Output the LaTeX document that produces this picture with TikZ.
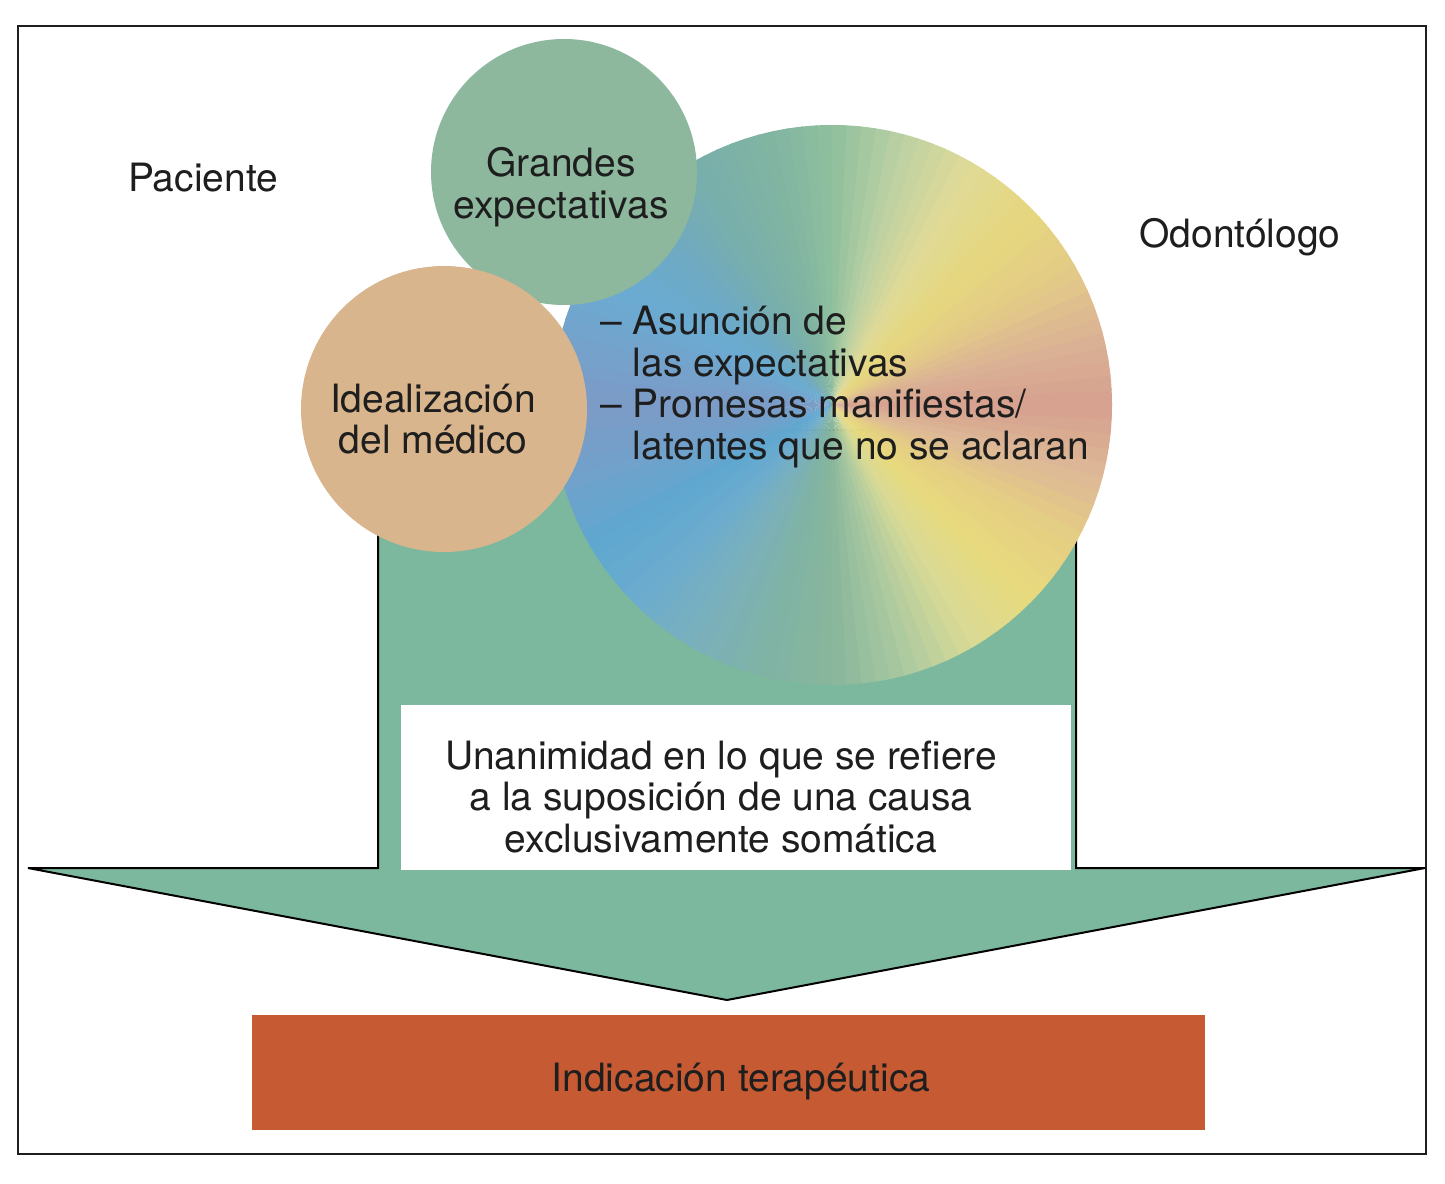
\documentclass[tikz,border=0pt]{standalone}
\usepackage{fontspec}
\setmainfont{TeX Gyre Heros}
\definecolor{arrowgreen}{HTML}{7CB89E}
\definecolor{circgreen}{HTML}{8DB89E}
\definecolor{circtan}{HTML}{D8B58C}
\definecolor{boxred}{HTML}{C65A33}
\definecolor{txt}{HTML}{1E1E1E}
% conic stops every 15 degrees (visual angle, counterclockwise from right)
\definecolor{k0}{HTML}{D6A08E}
\definecolor{k1}{HTML}{DBB395}
\definecolor{k2}{HTML}{E3CC86}
\definecolor{k3}{HTML}{E6D77E}
\definecolor{k4}{HTML}{E0DA98}
\definecolor{k5}{HTML}{BCD1A2}
\definecolor{k6}{HTML}{8FBF9E}
\definecolor{k7}{HTML}{80B4A2}
\definecolor{k8}{HTML}{78AEAC}
\definecolor{k9}{HTML}{6FAAC2}
\definecolor{k10}{HTML}{6AABD2}
\definecolor{k11}{HTML}{73A3CC}
\definecolor{k12}{HTML}{7C9BC6}
\definecolor{k13}{HTML}{72A1CA}
\definecolor{k14}{HTML}{5FA7D0}
\definecolor{k15}{HTML}{6CACCE}
\definecolor{k16}{HTML}{7AB0BC}
\definecolor{k17}{HTML}{80B3A6}
\definecolor{k18}{HTML}{88B69C}
\definecolor{k19}{HTML}{A9C8A0}
\definecolor{k20}{HTML}{D8DA96}
\definecolor{k21}{HTML}{E8DA7E}
\definecolor{k22}{HTML}{E5CF82}
\definecolor{k23}{HTML}{DDB897}
\definecolor{k24}{HTML}{D6A08E}
\tikzset{
  lbl/.style={text=txt, inner sep=0pt, font=\fontsize{39}{41.5}\selectfont},
  outline/.style={draw=black, line width=2pt, line join=miter},
}
\begin{document}
\begin{tikzpicture}[x=1pt,y=-1pt]
\useasboundingbox (0,0) rectangle (1445,1183);
% outer frame
\draw[draw=txt, line width=2pt] (18,26) rectangle (1426,1154);
% green arrow
\filldraw[fill=arrowgreen, outline] (378,430) -- (378,868) -- (28,868) -- (727,1000)
  -- (1425,868) -- (1076,868) -- (1076,430) -- cycle;
% white box
\fill[white] (401,705) rectangle (1071,870);
% big conic circle
\coordinate (bc) at (832,405);
\begin{scope}
  \clip (bc) circle (280);
  \foreach \i in {0,...,23}{
    \pgfmathtruncatemacro\j{\i+1}
    \foreach \t in {0,...,4}{
      \pgfmathsetmacro\p{\t*20+10}
      \pgfmathsetmacro\a{-(\i*15+\t*3)}
      \pgfmathsetmacro\b{\a-3.4}
      \fill[color=k\j!\p!k\i] (bc) -- ++(\a:320) arc[start angle=\a, end angle=\b, radius=320] -- cycle;
    }
  }
\end{scope}
% small circles
\fill[circgreen] (564,172) circle (133);
\fill[circtan] (444,409) circle (143);
% texts
\node[lbl] (pac) at (203,178) {Paciente};
\node[lbl, anchor=base] (odo) at (1240,247) {Odontólogo};
\node[lbl, align=center] (gra) at (561,187) {Grandes\\expectativas};
\node[lbl, align=center] (ide) at (433,419) {Idealización\\del médico};
\node[lbl, align=left, anchor=base west] (asu) at (600,459)
  {– Asunción de\\\hphantom{– }las expectativas\\– Promesas manifiestas/\\\hphantom{– }latentes que no se aclaran};
\node[lbl, align=center, anchor=base] (una) at (721,852)
  {Unanimidad en lo que se refiere\\a la suposición de una causa\\exclusivamente somática};
% red box
\node[fill=boxred, minimum width=953pt, minimum height=115pt, inner sep=0pt] (ind) at (728.5,1072.5) {};
\node[lbl, anchor=base] (indt) at (741,1091) {Indicación terapéutica};
\end{tikzpicture}
\end{document}
